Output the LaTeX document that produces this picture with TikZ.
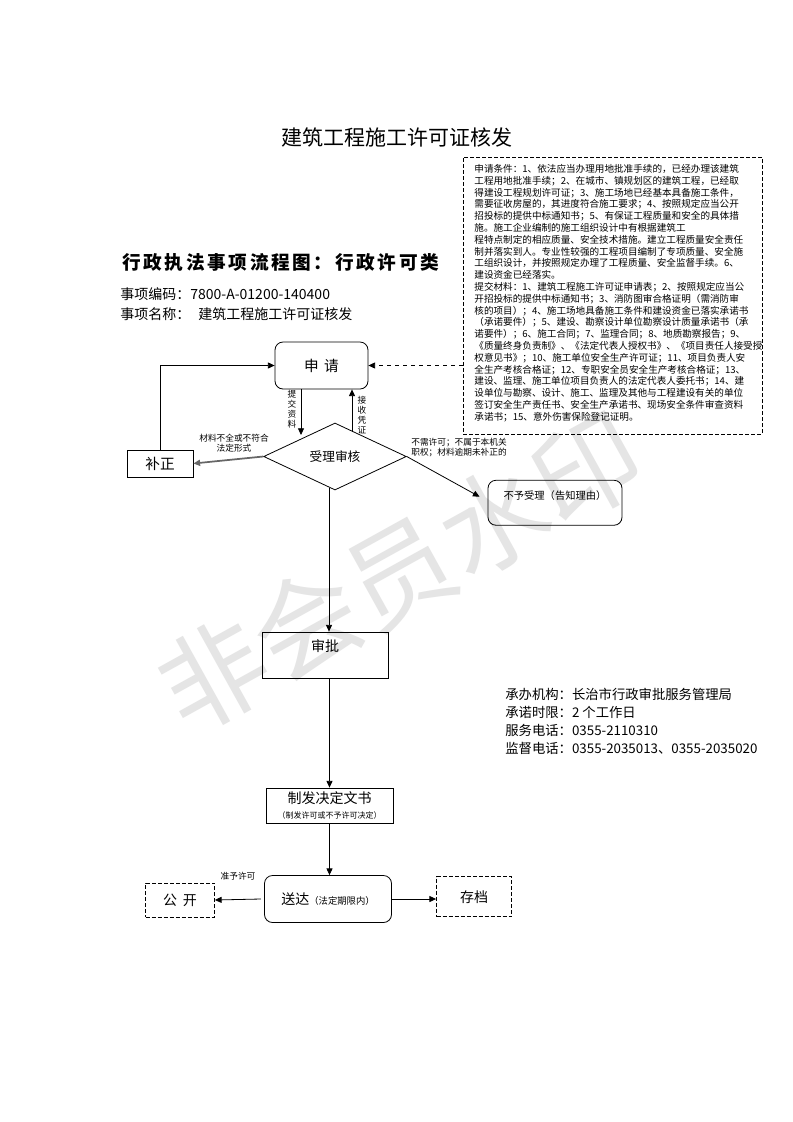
\documentclass[tikz,border=0pt]{standalone}
\usepackage{fontspec}
\setmainfont{Noto Sans CJK SC}
\usetikzlibrary{shapes.geometric,arrows.meta}

\begin{document}
\begin{tikzpicture}[x=0.75pt,y=-0.75pt,line width=0.6pt,>={Triangle[length=5pt,width=4.5pt]},
  rbox/.style={draw,rounded corners=6pt,inner sep=0pt},
  sbox/.style={draw,inner sep=0pt},
  dbox/.style={draw,dash pattern=on 3pt off 1.5pt,inner sep=0pt},
  txt/.style={inner sep=0pt},
  tiny/.style={font=\fontsize{6.5}{7.6}\selectfont,align=center,inner sep=0pt}]
  \fill[white] (0,0) rectangle (793,1122); \useasboundingbox (0,0) rectangle (793,1122);
  \node[txt,rotate=29,text=black!10,font=\fontsize{80}{80}\selectfont] (mark) at (400,572) {非会员水印};
  % headings
  \node[txt,font=\fontsize{15.75}{18}\selectfont] (title) at (397,137) {建筑工程施工许可证核发};
  \node[txt,anchor=west,font=\fontsize{14}{16}\selectfont\bfseries\addfontfeature{LetterSpace=14}] (kind) at (122,262) {行政执法事项流程图：行政许可类};
  \node[txt,anchor=west,font=\fontsize{10.5}{12}\selectfont] (code) at (120,294) {事项编码：7800-A-01200-140400};
  \node[txt,anchor=west,font=\fontsize{10.5}{12}\selectfont] (name) at (120,314) {事项名称：\hspace{6pt}建筑工程施工许可证核发};
  % conditions
  \node[dbox,minimum width=224.25pt,minimum height=207.75pt] (tiaojian) at (612.5,295.5) {};
  \node[txt,anchor=north west,align=left,font=\fontsize{7.2}{8.85}\selectfont] (tjtext) at (474,164) {申请条件：1、依法应当办理用地批准手续的，已经办理该建筑\\
工程用地批准手续；2、在城市、镇规划区的建筑工程，已经取\\
得建设工程规划许可证；3、施工场地已经基本具备施工条件，\\
需要征收房屋的，其进度符合施工要求；4、按照规定应当公开\\
招投标的提供中标通知书；5、有保证工程质量和安全的具体措\\
施。施工企业编制的施工组织设计中有根据建筑工\\
程特点制定的相应质量、安全技术措施。建立工程质量安全责任\\
制并落实到人。专业性较强的工程项目编制了专项质量、安全施\\
工组织设计，并按照规定办理了工程质量、安全监督手续。6、\\
建设资金已经落实。\\
提交材料：1、建筑工程施工许可证申请表；2、按照规定应当公\\
开招投标的提供中标通知书；3、消防图审合格证明（需消防审\\
核的项目）；4、施工场地具备施工条件和建设资金已落实承诺书\\
（承诺要件）；5、建设、勘察设计单位勘察设计质量承诺书（承\\
诺要件）；6、施工合同；7、监理合同；8、地质勘察报告；9、\\
《质量终身负责制》、《法定代表人授权书》、《项目责任人接受授\\
权意见书》；10、施工单位安全生产许可证；11、项目负责人安\\
全生产考核合格证；12、专职安全员安全生产考核合格证；13、\\
建设、监理、施工单位项目负责人的法定代表人委托书；14、建\\
设单位与勘察、设计、施工、监理及其他与工程建设有关的单位\\
签订安全生产责任书、安全生产承诺书、现场安全条件审查资料\\
承诺书；15、意外伤害保险登记证明。};
  % flow
  \node[rbox,minimum width=69.75pt,minimum height=35.25pt,font=\fontsize{11}{13}\selectfont] (shenqing) at (321.5,365.5) {申\hspace{4pt}请};
  \node[sbox,minimum width=49.5pt,minimum height=20.25pt,font=\fontsize{11}{13}\selectfont] (buzheng) at (160,463.5) {补正};
  \node[tiny,anchor=north,font=\fontsize{6.5}{7.5}\selectfont] (tjlabel) at (292,390) {提\\交\\资\\料};
  \node[tiny,anchor=north,font=\fontsize{6.5}{7.5}\selectfont] (jslabel) at (362,396) {接\\收\\凭\\证};
  \node[diamond,draw,fill=white,minimum width=107pt,minimum height=50.25pt,inner sep=0pt,font=\fontsize{9.5}{11}\selectfont] (shouli) at (335,456.5) {受理审核};
  \coordinate (tjend) at (301,435);
  \coordinate (jsstart) at (352,432);
  \draw[->] (shenqing.south -| tjend) -- (tjend);
  \draw[->] (jsstart) -- (shenqing.south -| jsstart);
  \draw[->] (buzheng.north) |- (shenqing.west);
  \draw[->,draw=black!60,line width=1.3pt] (shouli.west) -- (buzheng.east);
  \node[tiny] (lbl1) at (234,443) {材料不全或不符合\\法定形式};
  \draw[->,dashed] (tiaojian.west |- shenqing.east) -- (shenqing.east);
  \node[rbox,minimum width=100.5pt,minimum height=33.75pt,text height=6pt,text depth=11.6pt,font=\fontsize{7.7}{9}\selectfont] (buyu) at (555,502.75) {不予受理（告知理由）};
  \draw[->] (shouli.east) -- ([shift={(-8,-6)}]buyu.west);
  \node[tiny,anchor=north west,align=left] (lbl2) at (411,438) {不需许可；不属于本机关\\职权；材料逾期未补正的};
  \node[sbox,minimum width=94.5pt,minimum height=34.5pt,text height=8pt,text depth=13.5pt,font=\fontsize{10.5}{12}\selectfont] (shenpi) at (325,655) {审批};
  \coordinate (mainx) at (329,488);
  \draw[->] (mainx) -- (mainx |- shenpi.north);
  \node[sbox,minimum width=95.25pt,minimum height=26.25pt,align=center] (zhifa) at (329.5,805.5) {\fontsize{10.5}{12}\selectfont 制发决定文书\\[-1pt]\fontsize{6}{7}\selectfont（制发许可或不予许可决定）};
  \draw[->] (shenpi.south -| zhifa.north) -- (zhifa.north);
  \node[rbox,minimum width=95.25pt,minimum height=35.25pt] (songda) at (328,899) {\fontsize{10.5}{12}\selectfont 送达{\fontsize{7}{8}\selectfont（法定期限内）}};
  \draw[->] (zhifa.south) -- (zhifa.south |- songda.north);
  \node[dbox,minimum width=51.75pt,minimum height=25.5pt,font=\fontsize{10.5}{12}\selectfont] (gongkai) at (180,900) {公\hspace{4.5pt}开};
  \node[dbox,minimum width=56.25pt,minimum height=30pt,font=\fontsize{10.5}{12}\selectfont] (cundang) at (474,896.7) {存档};
  \draw[->] ([xshift=-2.5pt]songda.west) -- (gongkai.east);
  \node[tiny] (zhunyu) at (238,876) {准予许可};
  \draw[->] (songda.east) -- (songda.east -| cundang.west);
  % contact
  \node[txt,anchor=north west,align=left,font=\fontsize{10}{13.5}\selectfont] (info) at (505,688) {承办机构：长治市行政审批服务管理局\\承诺时限：2 个工作日\\服务电话：0355-2110310\\监督电话：0355-2035013、0355-2035020};
\end{tikzpicture}
\end{document}
